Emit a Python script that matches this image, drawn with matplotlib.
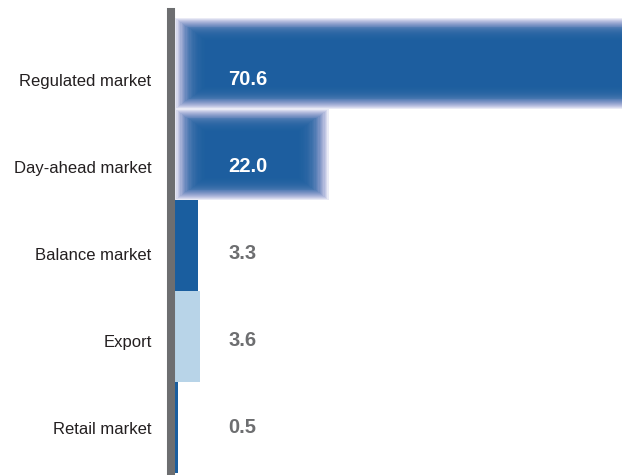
import matplotlib
matplotlib.use("Agg")
from matplotlib import pyplot as plt
from matplotlib.colors import to_rgb

categories = ["Regulated market", "Day-ahead market", "Balance market", "Export", "Retail market"]
values = [70.6, 22.0, 3.3, 3.6, 0.5]
labels = ["70.6", "22.0", "3.3", "3.6", "0.5"]
colors = ["#1a5e9f", "#1a5e9f", "#1a5e9f", "#b8d4e8", "#1a5e9f"]
glow = [True, True, False, False, False]

plt.rcParams["font.family"] = ["Liberation Sans", "DejaVu Sans"]

fig = plt.figure(figsize=(6.22, 4.75), dpi=100)
W, H = 622, 475
ax = fig.add_axes([175 / W, 0, 1 - 175 / W, 1 - 12 / H])

xmax = 64
n = len(categories)
ypos = list(range(n - 1, -1, -1))
ax.set_xlim(0, xmax)
ax.set_ylim(-0.5 - 2 / 91, n - 0.5 + 6 / 91)

px_x = xmax / (W - 175)   # data units per pixel
px_y = 1 / 91.0

def mix(c1, c2, t):
    a, b = to_rgb(c1), to_rgb(c2)
    return tuple(a[k] + (b[k] - a[k]) * t for k in range(3))

for y, v, c, g in zip(ypos, values, colors, glow):
    if g:
        # soft blurred bar: stacked inset rectangles
        steps = 24
        for i in range(steps):
            dx = i * 1.3 * px_x
            dy = i * 0.95 * px_y
            col = mix("#7a82c4", c, min(1, i / 9))
            ax.barh(y, v - 2 * dx, left=dx, height=1.0 - 2 * dy,
                    color=col, alpha=0.16, linewidth=0)
    else:
        ax.barh(y, v, height=1.0, color=c, linewidth=0)

# text rows sit slightly lower than bar centres in the original
text_y = [y * 0.956 for y in ypos]

for ty, lab, g in zip(text_y, labels, glow):
    ax.text(7.6, ty, lab, ha="left", va="center", fontsize=14.5, fontweight="bold",
            color="white" if g else "#6d6e70")

ax.set_yticks(text_y)
ax.set_yticklabels(categories)
ax.tick_params(axis="y", length=0, pad=14, labelsize=12, labelcolor="#231f20")
ax.set_xticks([])
for s in ["top", "right", "bottom"]:
    ax.spines[s].set_visible(False)
ax.spines["left"].set_color("#6d6e70")
ax.spines["left"].set_linewidth(5.8)
ax.spines["left"].set_position(("outward", 2.9))

fig.savefig("out.png", dpi=100)
